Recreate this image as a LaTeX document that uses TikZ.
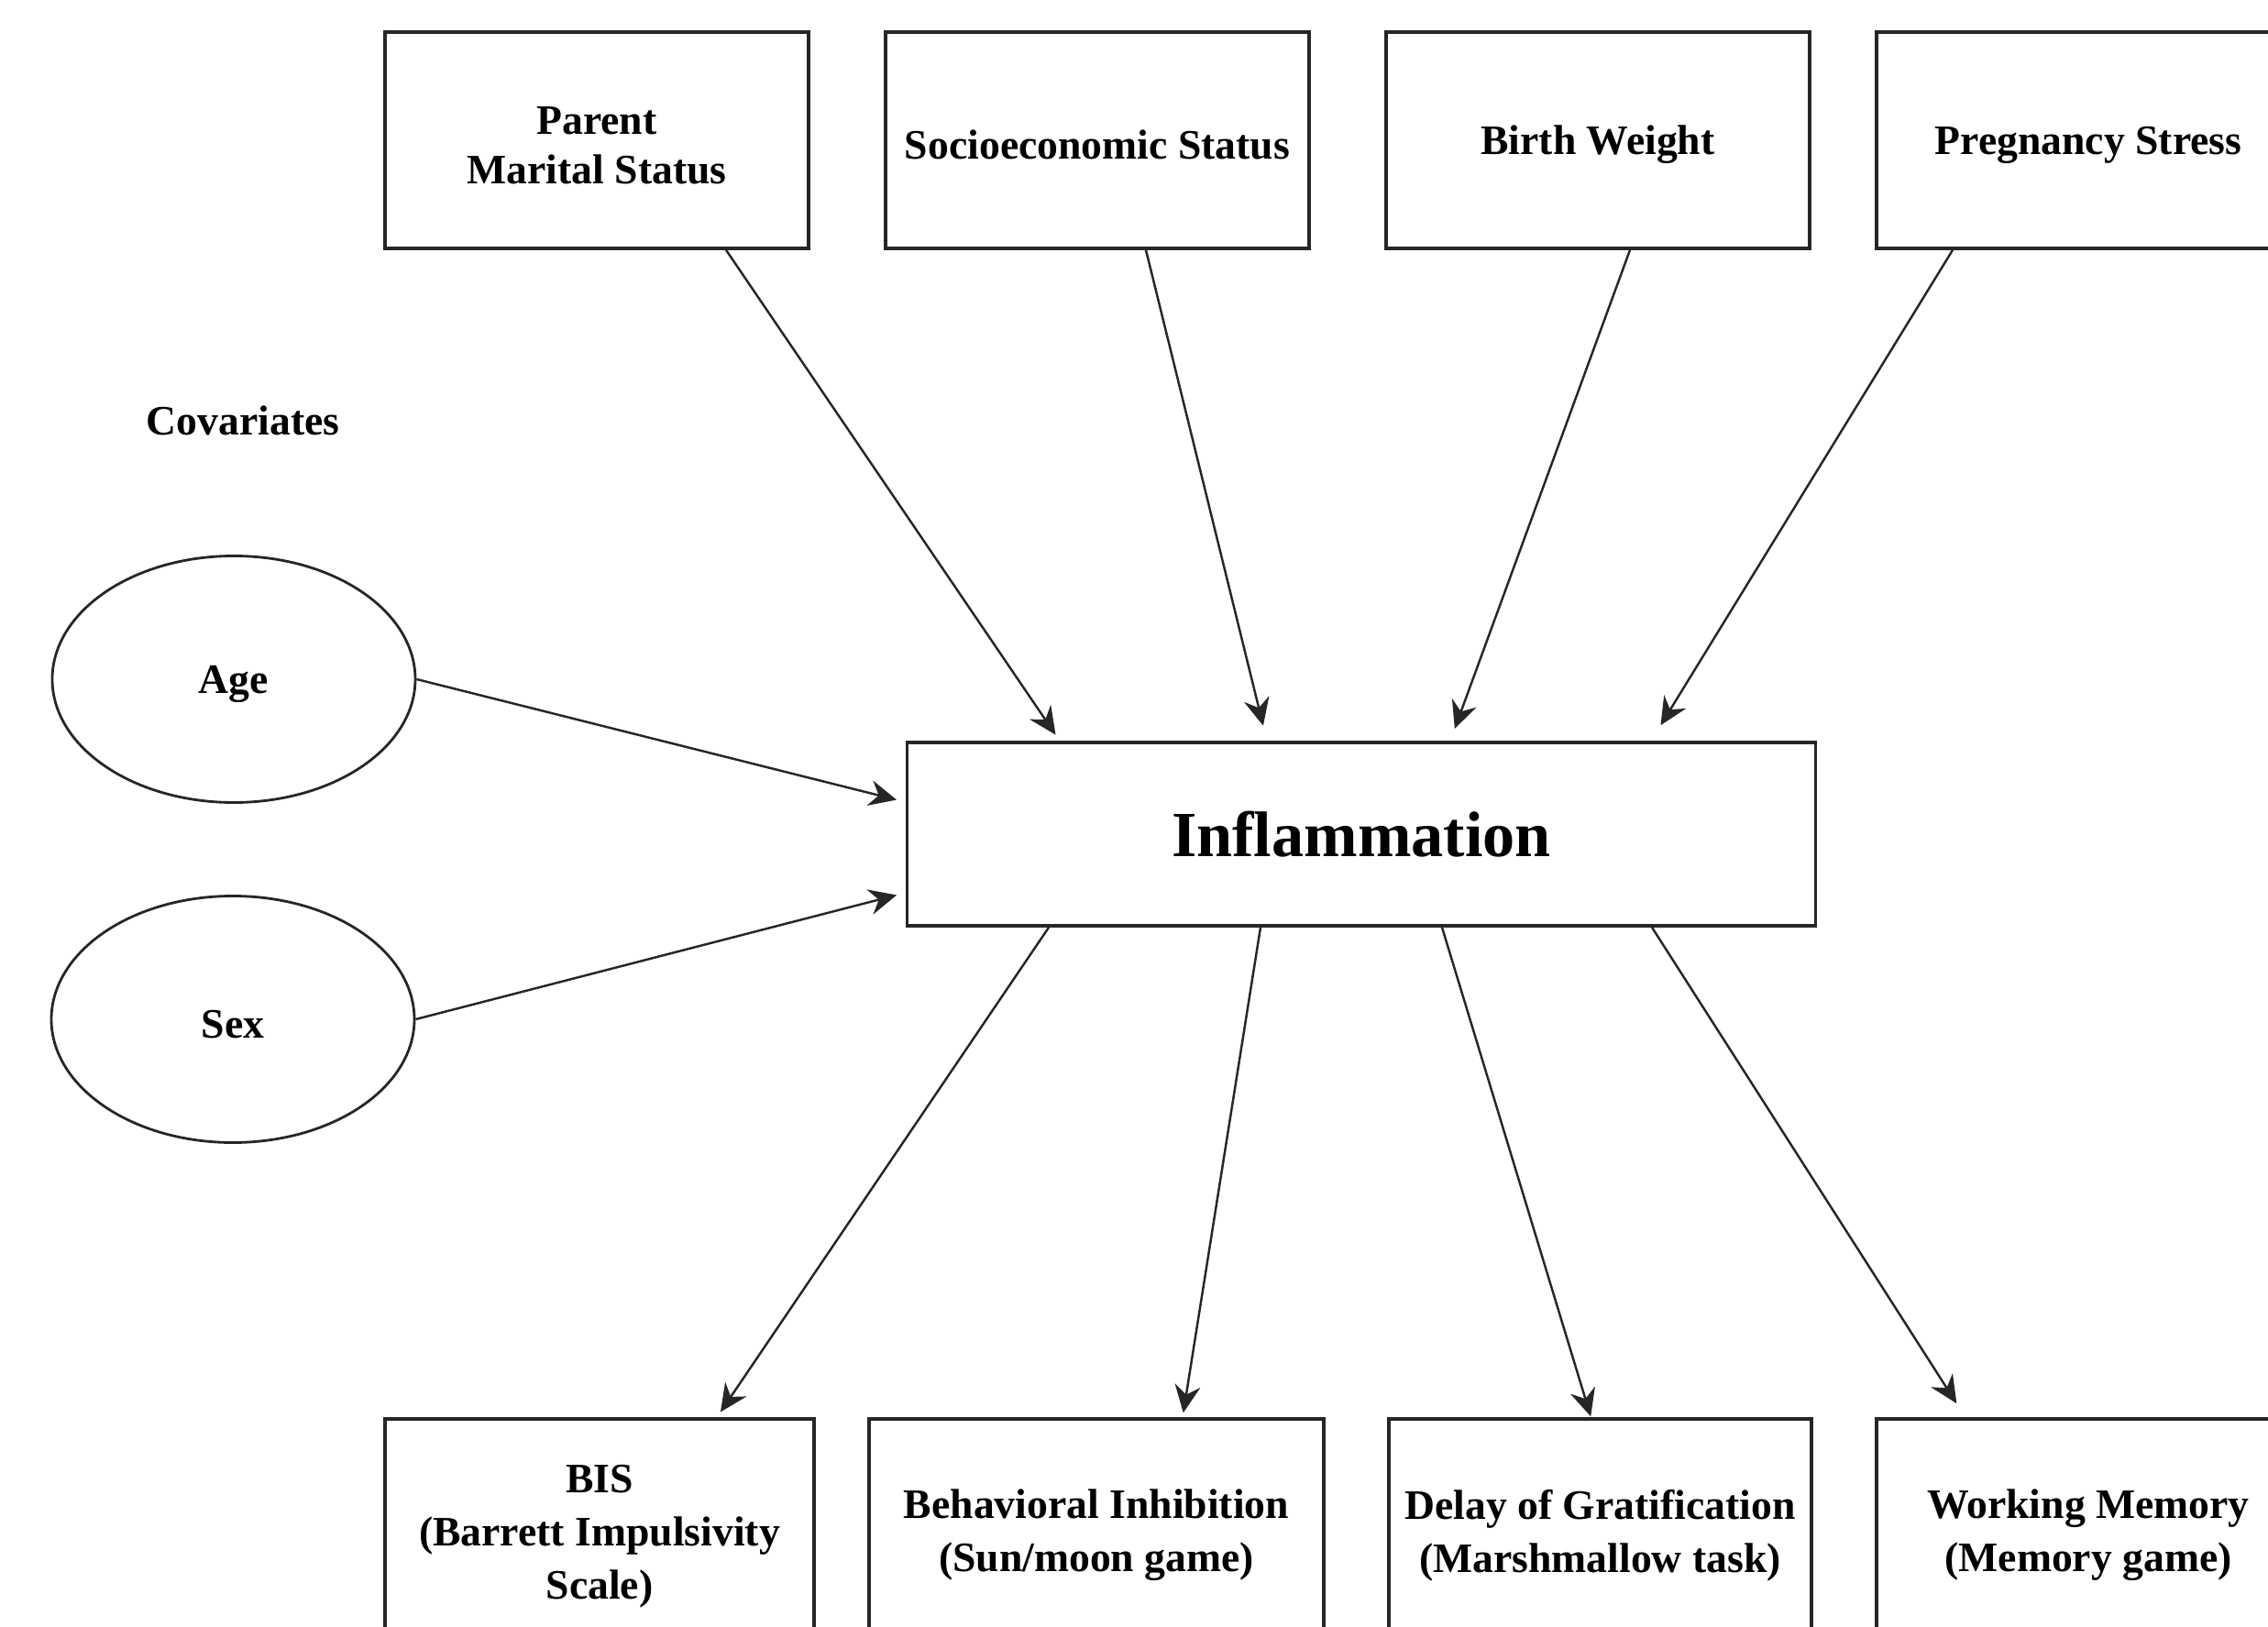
\documentclass[tikz,border=0pt]{standalone}
\usepackage{fontspec}
\setmainfont{Liberation Serif}
\usetikzlibrary{arrows.meta,shapes.geometric}
\newcommand{\topgap}{\rule{0pt}{11.9pt}}

\begin{document}
\begin{tikzpicture}
    \tikzset{
    var/.style={rectangle,draw=black!85,line width=1pt,minimum width=4.62cm,minimum height=2.36cm,align=center,font=\fontsize{13}{15.5}\selectfont\bfseries,execute at begin node=\topgap},
    outc/.style={var,minimum height=2.44cm,font=\fontsize{13}{16.5}\selectfont\bfseries},
    cov/.style={ellipse,draw=black!85,line width=0.8pt,minimum width=3.96cm,minimum height=2.69cm,font=\fontsize{13}{15.5}\selectfont\bfseries,execute at begin node=\topgap},
    mid/.style={rectangle,draw=black!85,line width=1pt,minimum width=9.91cm,minimum height=2cm,font=\fontsize{20}{24}\selectfont\bfseries},
    arr/.style={-{Stealth[length=3mm,width=2.8mm,inset=1mm]},draw=black!85,line width=0.7pt},
    }
    \useasboundingbox (0,0) rectangle (24.74,17.74);
    \clip (0,0) rectangle (24.74,17.74);

    \node[var] (parent) at (6.51,16.21) {\topgap Parent\\Marital Status};
    \node[var] (ses) at (11.97,16.21) {Socioeconomic Status};
    \node[var] (bw) at (17.43,16.21) {Birth Weight};
    \node[var] (ps) at (22.78,16.21) {Pregnancy Stress};

    \node[font=\fontsize{13}{15.5}\selectfont\bfseries] (covlab) at (2.65,13.15) {Covariates};
    \node[cov] (age) at (2.55,10.33) {Age};
    \node[cov] (sex) at (2.54,6.62) {Sex};

    \node[mid] (infl) at (14.85,8.64) {Inflammation};

    \node[outc,minimum width=4.68cm] (bis) at (6.54,1.04) {\topgap BIS\\(Barrett Impulsivity\\Scale)};
    \node[outc,minimum width=4.96cm] (bi) at (11.96,1.04) {\topgap Behavioral Inhibition\\(Sun/moon game)};
    \node[outc,minimum width=4.61cm] (dog) at (17.455,1.04) {\topgap Delay of Gratification\\(Marshmallow task)};
    \node[outc] (wm) at (22.78,1.04) {\topgap Working Memory\\(Memory game)};

    \draw[arr,shorten >=0.8mm] ([xshift=1.41cm]parent.south) -- ([xshift=-3.29cm]infl.north);
    \draw[arr,shorten >=1.7mm] ([xshift=0.53cm]ses.south) -- ([xshift=-1.03cm]infl.north);
    \draw[arr,shorten >=1.4mm] ([xshift=0.35cm]bw.south) -- ([xshift=0.97cm]infl.north);
    \draw[arr,shorten >=2mm] ([xshift=-1.48cm]ps.south) -- ([xshift=3.16cm]infl.north);

    \draw[arr,shorten >=1mm] (age.east) -- ([yshift=0.35cm]infl.west);
    \draw[arr,shorten >=1mm] (sex.east) -- ([yshift=-0.64cm]infl.west);

    \draw[arr,shorten >=0.7mm] ([xshift=-3.41cm]infl.south) -- ([xshift=1.28cm]bis.north);
    \draw[arr,shorten >=0.5mm] ([xshift=-1.1cm]infl.south) -- ([xshift=0.94cm]bi.north);
    \draw[arr,shorten >=0.1mm] ([xshift=0.88cm]infl.south) -- ([xshift=-0.1cm]dog.north);
    \draw[arr,shorten >=1.8mm] ([xshift=3.17cm]infl.south) -- ([xshift=-1.34cm]wm.north);

\end{tikzpicture}
\end{document}
